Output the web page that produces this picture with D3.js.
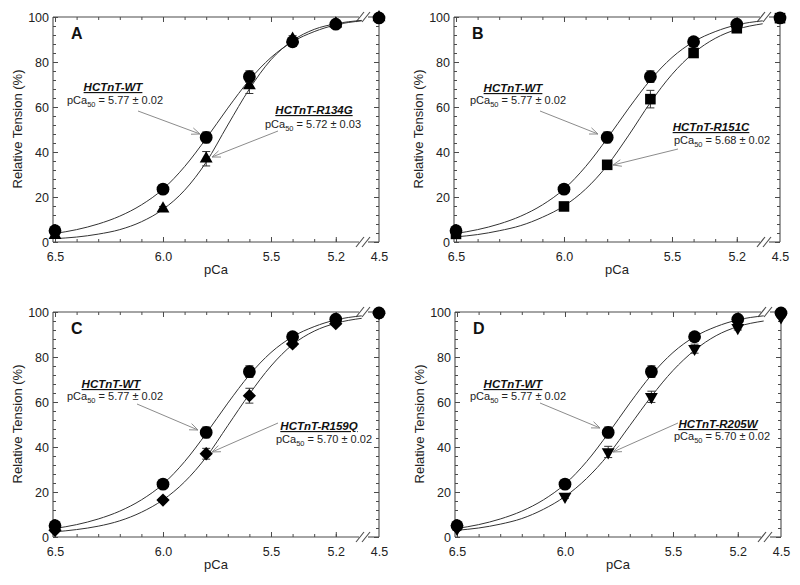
<!DOCTYPE html>
<html><head><meta charset="utf-8">
<script src="https://cdn.jsdelivr.net/npm/d3@7/dist/d3.min.js"></script>
<style>
body{margin:0;background:#fff}
text{font-family:"Liberation Sans",Arial,Helvetica,sans-serif}
</style>
</head><body>
<svg id="c" width="800" height="585" xmlns="http://www.w3.org/2000/svg"></svg>
<script>
// ---------------- data ----------------
const pCaPoints = [6.5, 6.0, 5.8, 5.6, 5.4, 5.2, 4.5];
const wtTension = [5, 23.5, 46.5, 73.5, 89, 96.8, 99.6];
const wtError   = [0.8, 0.8, 2.4, 2.6, 1.0, 0.8, 0.3];
const r134gTension = [3, 14.8, 37, 69.5, 90.2, 97, 99.8];
const r134gError   = [0.5, 1.0, 3.2, 3.5, 1.5, 0.8, 0.2];
const r151cTension = [3.6, 15.8, 34.3, 63.5, 84, 95, 99.5];
const r151cError   = [0.5, 0.8, 1.6, 3.9, 1.6, 0.8, 0.3];
const r159qTension = [3, 16.4, 37, 62.8, 85.8, 94.8, 99.4];
const r159qError   = [0.5, 0.8, 2.4, 3.3, 1.2, 0.8, 0.3];
const r205wTension = [3.7, 18, 37.8, 62.3, 83.7, 93, 97.8];
const r205wError   = [0.5, 0.8, 2.5, 2.5, 2.0, 1.0, 0.5];

// fitted curves
const curvePCa   = [6.5, 6.4, 6.3, 6.2, 6.1, 6.0, 5.9, 5.8, 5.7, 5.6, 5.5, 5.4, 5.3, 5.2, 5.08];
const wtCurve    = [3.8, 5.5, 8, 11.5, 16.5, 23.5, 33.5, 46, 59.5, 72, 82, 89, 93.5, 96.5, 98.3];
const r134gCurve = [1.5, 2.2, 3.5, 5.5, 9, 14.5, 23, 35.5, 52, 68, 81, 89.5, 94.5, 97, 98.5];
const r151cCurve = [2.3, 3.3, 5, 7.3, 11, 16, 23.5, 34, 47.5, 62, 74.5, 84, 90.5, 94.5, 97];
const r159qCurve = [2.3, 3.3, 4.8, 7.2, 11, 16.5, 24.5, 35.5, 49.5, 63.5, 76, 85.5, 91.5, 95, 97.2];
const r205wCurve = [3, 4, 5.7, 8.2, 12.3, 18, 26, 36.5, 49.5, 62.5, 74, 83, 89.5, 93.5, 96];

const panelLetters = ["A", "B", "C", "D"];
const mutantNames  = ["HCTnT-R134G", "HCTnT-R151C", "HCTnT-R159Q", "HCTnT-R205W"];
const mutantPCa50  = ["5.72", "5.68", "5.70", "5.70"];
const mutantSEM    = ["0.03", "0.02", "0.02", "0.02"];
const wtName = "HCTnT-WT", wtPCa50 = "5.77", wtSEM = "0.02";
const xTickLabels = [6.5, 6.0, 5.5, 5.2, 4.5];
const yTickLabels = [0, 20, 40, 60, 80, 100];

// ---------------- layout ----------------
const mutTension = [r134gTension, r151cTension, r159qTension, r205wTension];
const mutError   = [r134gError, r151cError, r159qError, r205wError];
const mutCurve   = [r134gCurve, r151cCurve, r159qCurve, r205wCurve];
const mutShape   = ["tri", "square", "diamond", "invtri"];
const origins = [[0,0],[401,0],[0,295],[402,295]];
const annot = [
  {wl:[113,91], wp:[115,104], wa:[[138,111],[200,134]], ml:[314,114], mp:[313,128], ma:[[278,131],[212,157]]},
  {wl:[112,92], wp:[117,104], wa:[[139,111],[197,134]], ml:[310,131], mp:[321,144], ma:[[277,149],[212,165]]},
  {wl:[111,93], wp:[115,105], wa:[[137,109],[198,135]], ml:[319,135], mp:[324,148], ma:[[278,128],[212,157]]},
  {wl:[111,93], wp:[116,105], wa:[[138,108],[198,133]], ml:[316,133], mp:[320,145], ma:[[276,128],[211,157]]}
];

const svg = d3.select("#c");
const axisCol = "#4a4a4a", textCol = "#222";
const frameL = 53, frameR = 379, frameT = 17, frameB = 242, breakX = 363;

function symbolPath(shape){
  if (shape === "circle") return d3.symbol(d3.symbolCircle, 128)();
  if (shape === "tri") return d3.symbol(d3.symbolTriangle, 72)();
  if (shape === "invtri") return d3.symbol(d3.symbolTriangle, 72)();
  if (shape === "square") return d3.symbol(d3.symbolSquare, 112)();
  if (shape === "diamond") return d3.symbol(d3.symbolSquare, 88)();
}
function symbolRot(shape){
  if (shape === "invtri") return 180;
  if (shape === "diamond") return 45;
  return 0;
}

panelLetters.forEach((letter, i) => {
  const [ox, oy] = origins[i];
  const g = svg.append("g").attr("transform", `translate(${ox},${oy})`);
  const x = d3.scaleLinear().domain([6.5, 5.08, 4.5]).range([55, 361.7, 379]);
  const y = d3.scaleLinear().domain([0, 100]).range([frameB, frameT]);

  // frame with axis breaks
  const fr = g.append("g").attr("stroke", axisCol).attr("stroke-width", 1.1).attr("fill", "none");
  fr.append("line").attr("x1", frameL).attr("x2", frameL).attr("y1", frameT).attr("y2", frameB);
  fr.append("line").attr("x1", frameR).attr("x2", frameR).attr("y1", frameT).attr("y2", frameB);
  [frameT, frameB].forEach(yy => {
    fr.append("line").attr("x1", frameL).attr("x2", breakX - 4).attr("y1", yy).attr("y2", yy);
    fr.append("line").attr("x1", breakX + 5).attr("x2", frameR).attr("y1", yy).attr("y2", yy);
    [-3, 3].forEach(dx => {
      fr.append("line").attr("x1", breakX + dx - 4).attr("y1", yy + 5)
        .attr("x2", breakX + dx + 4).attr("y2", yy - 5);
    });
  });

  // axes
  const minorX = d3.range(0, 14).map(k => +(6.5 - k * 0.1).toFixed(1));
  const minorY = d3.range(0, 101, 4);
  const styleAxis = sel => {
    sel.select(".domain").remove();
    sel.selectAll(".tick line").attr("stroke", axisCol);
    sel.selectAll("text").attr("fill", textCol).attr("font-size", 12.5)
      .attr("font-family", '"Liberation Sans",Arial,sans-serif');
  };
  g.append("g").attr("transform", `translate(0,${frameB})`)
    .call(d3.axisBottom(x).tickValues(minorX).tickSize(-3).tickFormat("")).call(styleAxis);
  g.append("g").attr("transform", `translate(0,${frameB})`)
    .call(d3.axisBottom(x).tickValues(xTickLabels).tickSize(-5).tickPadding(10).tickFormat(d3.format(".1f")))
    .call(styleAxis)
    .call(s => s.selectAll(".tick").filter(d => d === 4.5).select("line").remove());
  g.append("g").attr("transform", `translate(0,${frameT})`)
    .call(d3.axisTop(x).tickValues(minorX).tickSize(-3).tickFormat("")).call(styleAxis);
  g.append("g").attr("transform", `translate(0,${frameT})`)
    .call(d3.axisTop(x).tickValues([6.5, 6.0, 5.5, 5.2]).tickSize(-5).tickFormat("")).call(styleAxis);
  g.append("g").attr("transform", `translate(${frameL},0)`)
    .call(d3.axisLeft(y).tickValues(minorY).tickSize(-3).tickFormat("")).call(styleAxis);
  g.append("g").attr("transform", `translate(${frameL},0)`)
    .call(d3.axisLeft(y).tickValues(yTickLabels).tickSize(-5).tickPadding(4)).call(styleAxis);
  g.append("g").attr("transform", `translate(${frameR},0)`)
    .call(d3.axisRight(y).tickValues(minorY).tickSize(-3).tickFormat("")).call(styleAxis);
  g.append("g").attr("transform", `translate(${frameR},0)`)
    .call(d3.axisRight(y).tickValues(yTickLabels).tickSize(-5).tickFormat("")).call(styleAxis);

  // axis titles
  g.append("text").attr("x", 216).attr("y", 274).attr("text-anchor", "middle")
    .attr("font-size", 13).attr("fill", textCol).text("pCa");
  g.append("text").attr("transform", "translate(21.5,129) rotate(-90)").attr("text-anchor", "middle")
    .attr("font-size", 13).attr("fill", textCol).text("Relative Tension (%)");
  g.append("text").attr("x", 71).attr("y", 39).attr("font-size", 16).attr("font-weight", "bold")
    .attr("fill", "#111").text(letter);

  // curves
  const line = d3.line().x(d => x(d[0])).y(d => y(d[1])).curve(d3.curveMonotoneX);
  [wtCurve, mutCurve[i]].forEach(c => {
    g.append("path").attr("d", line(curvePCa.map((p, k) => [p, c[k]])))
      .attr("fill", "none").attr("stroke", "#333").attr("stroke-width", 1);
  });

  // series: mutant below, WT on top
  const series = [
    {vals: mutTension[i], err: mutError[i], shape: mutShape[i]},
    {vals: wtTension, err: wtError, shape: "circle"}
  ];
  series.forEach(s => {
    const pts = pCaPoints.map((p, k) => ({p, v: s.vals[k], e: s.err[k]}));
    const eb = g.append("g").attr("stroke", "#333").attr("stroke-width", 1);
    pts.forEach(d => {
      eb.append("line").attr("x1", x(d.p)).attr("x2", x(d.p)).attr("y1", y(d.v - d.e)).attr("y2", y(d.v + d.e));
      [d.v - d.e, d.v + d.e].forEach(vv => eb.append("line")
        .attr("x1", x(d.p) - 4).attr("x2", x(d.p) + 4).attr("y1", y(vv)).attr("y2", y(vv)));
    });
    g.append("g").selectAll("path").data(pts).join("path")
      .attr("d", symbolPath(s.shape))
      .attr("transform", d => `translate(${x(d.p)},${y(d.v)}) rotate(${symbolRot(s.shape)})`)
      .attr("fill", "#000");
  });

  // annotations
  const a = annot[i];
  function label(pos, name) {
    g.append("text").attr("x", pos[0]).attr("y", pos[1]).attr("text-anchor", "middle")
      .attr("font-family", '"Liberation Sans Narrow","Arial Narrow","Liberation Sans",sans-serif')
      .attr("font-size", 11.5).attr("font-weight", "bold").attr("font-style", "italic")
      .attr("text-decoration", "underline").attr("fill", "#111").text(name);
  }
  function pLine(pos, val, sem) {
    const t = g.append("text").attr("x", pos[0]).attr("y", pos[1]).attr("text-anchor", "middle")
      .attr("font-size", 11).attr("fill", textCol);
    t.append("tspan").text("pCa");
    t.append("tspan").attr("font-size", 7.5).attr("dy", 3).text("50");
    t.append("tspan").attr("dy", -3).text(" = " + val + " ± " + sem);
  }
  function arrow(pts) {
    const [[x1, y1], [x2, y2]] = pts;
    const ang = Math.atan2(y2 - y1, x2 - x1);
    const ag = g.append("g").attr("stroke", "#8c8c8c").attr("stroke-width", 1).attr("fill", "none");
    ag.append("line").attr("x1", x1).attr("y1", y1).attr("x2", x2).attr("y2", y2);
    const L = 9, sp = 0.38;
    ag.append("path").attr("d", d3.line()([
      [x2 - L * Math.cos(ang - sp), y2 - L * Math.sin(ang - sp)],
      [x2, y2],
      [x2 - L * Math.cos(ang + sp), y2 - L * Math.sin(ang + sp)]
    ]));
  }
  label(a.wl, wtName); pLine(a.wp, wtPCa50, wtSEM); arrow(a.wa);
  label(a.ml, mutantNames[i]); pLine(a.mp, mutantPCa50[i], mutantSEM[i]); arrow(a.ma);
});
</script>
</body></html>
